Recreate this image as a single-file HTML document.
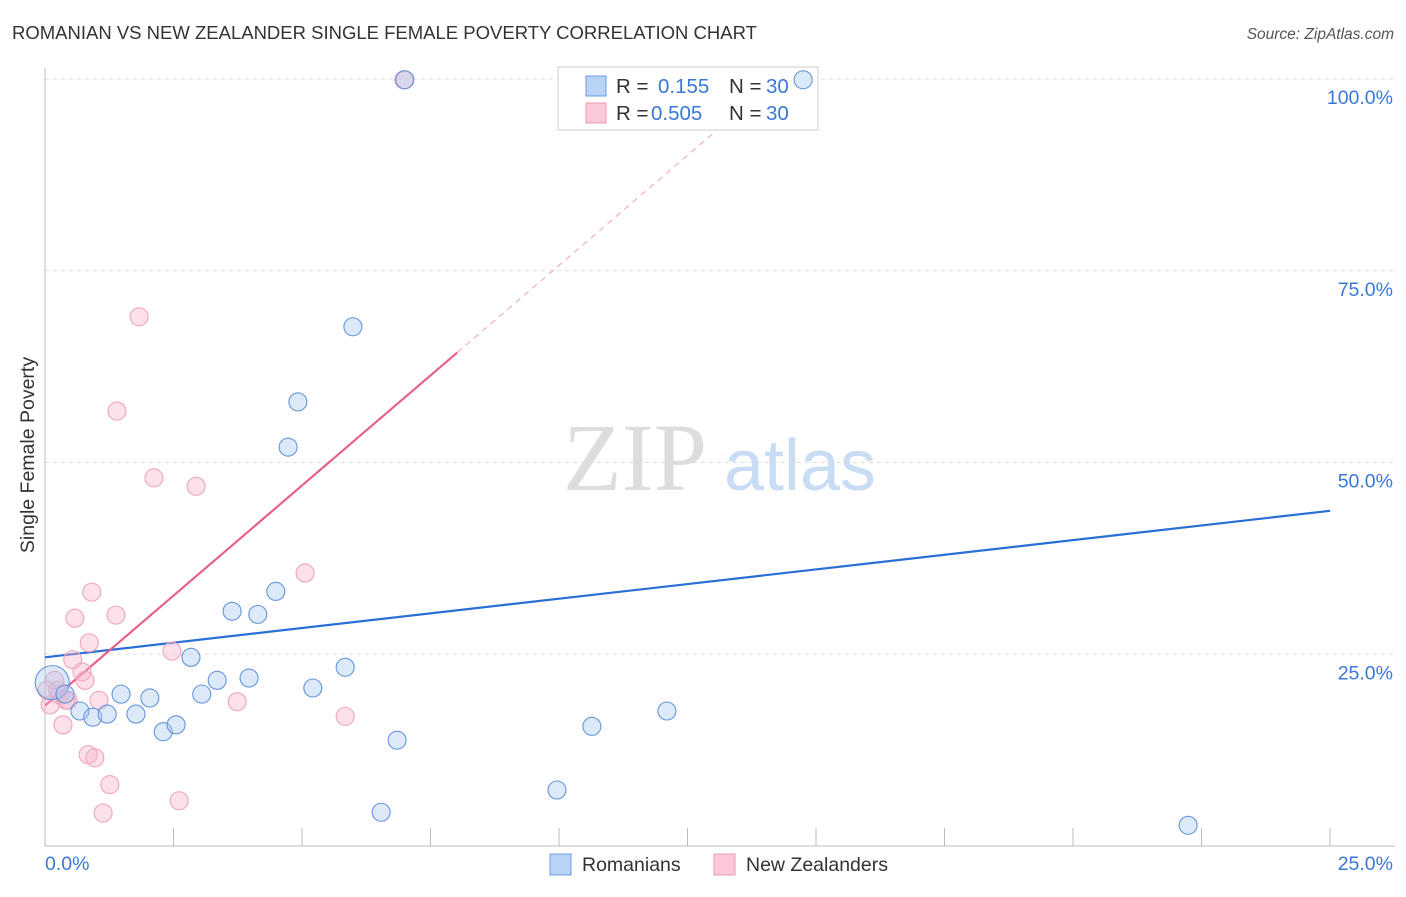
<!DOCTYPE html>
<html><head><meta charset="utf-8"><style>
body{margin:0;background:#fff;font-family:"Liberation Sans",sans-serif}
</style></head><body>
<svg id="c" width="1406" height="892" xmlns="http://www.w3.org/2000/svg" font-family="Liberation Sans, sans-serif">
<text x="12" y="39" font-size="18.5" fill="#333">ROMANIAN VS NEW ZEALANDER SINGLE FEMALE POVERTY CORRELATION CHART</text>
<text x="1394" y="39" font-size="15.5" fill="#555" text-anchor="end" font-style="italic">Source: ZipAtlas.com</text>
<text x="34" y="455" font-size="19.5" fill="#333" text-anchor="middle" transform="rotate(-90 34 455)">Single Female Poverty</text>
<g><text x="635" y="490" font-size="96" fill="#ddd" font-family="Liberation Serif, serif" text-anchor="middle">ZIP</text><text x="800" y="490" font-size="72" fill="#c8dcf4" text-anchor="middle">atlas</text></g>
<g id="grid"></g><g id="axes"></g><g id="trend"></g>
<g>
<rect x="558" y="67" width="260" height="63" fill="#fff" stroke="#ccc"/>
<rect x="586" y="76" width="20" height="20" fill="#b8d4f4" stroke="#6a9be0"/>
<rect x="586" y="103" width="20" height="20" fill="#fbc8d8" stroke="#ee9ab4"/>
<text font-size="20.5" fill="#333"><tspan x="616" y="93">R =</tspan><tspan x="658" y="93" fill="#3a78d8">0.155</tspan><tspan x="729" y="93">N =</tspan><tspan x="766" y="93" fill="#3a78d8">30</tspan></text>
<text font-size="20.5" fill="#333"><tspan x="616" y="120">R =</tspan><tspan x="651" y="120" fill="#3a78d8">0.505</tspan><tspan x="729" y="120">N =</tspan><tspan x="766" y="120" fill="#3a78d8">30</tspan></text>
</g>
<g id="pts"></g>
<g>
<rect x="550" y="854" width="21" height="21" fill="#b8d4f4" stroke="#6a9be0"/>
<text x="582" y="871" font-size="19.5" fill="#333">Romanians</text>
<rect x="714" y="854" width="21" height="21" fill="#fbc8d8" stroke="#ee9ab4"/>
<text x="746" y="871" font-size="19.5" fill="#333">New Zealanders</text>
</g>
</svg>
<script>
const blueX=[0.14,0.39,0.68,0.93,1.21,1.48,1.77,2.04,2.30,2.55,2.84,3.05,3.35,3.64,3.97,4.14,4.49,4.73,4.92,5.21,5.84,5.99,6.54,6.85,9.96,10.64,12.10,14.75,22.24,7.00];
const blueY=[21.3,19.8,17.6,16.8,17.2,19.8,17.2,19.3,14.9,15.8,24.6,19.8,21.6,30.6,21.9,30.2,33.2,52.0,57.9,20.6,23.3,67.7,4.4,13.8,7.3,15.6,17.6,99.9,2.7,99.9];
const pinkX=[0.10,0.19,0.29,0.35,0.45,0.58,0.54,0.72,0.78,0.84,0.86,0.91,0.97,1.05,1.13,1.26,1.38,1.40,1.83,2.12,2.47,2.61,2.94,3.74,5.06,5.84,6.98,0.04,0.25,0.41];
const pinkY=[18.4,21.6,19.7,15.8,19.0,29.7,24.3,22.7,21.6,11.9,26.5,33.1,11.5,19.0,4.3,8.0,30.1,56.7,69.0,48.0,25.4,5.9,46.9,18.8,35.6,16.9,99.9,20.3,20.3,19.0];
const yTicks=[25,50,75,100];
const yTickLabels=["25.0%","50.0%","75.0%","100.0%"];
const blueLine=[24.6,43.7];
const pinkLine=[18.3,5.74];
const NS="http://www.w3.org/2000/svg";
const sx=v=>45+v/25*1285, sy=v=>846-v/100*767;
function mk(t,a,p){const e=document.createElementNS(NS,t);for(const k in a)e.setAttribute(k,a[k]);document.getElementById(p).appendChild(e);return e;}
yTicks.forEach((t,i)=>{
 const l=mk('line',{x1:45,x2:1395,y1:sy(t),y2:sy(t),stroke:'#ddd','stroke-dasharray':'4,4'},'grid');
 
 
 const tx=mk('text',{x:1393,y:sy(t)+25,'font-size':19.5,fill:'#3a78d8','text-anchor':'end'},'axes');
 tx.textContent=yTickLabels[i];
 
 
});
let a=mk('line',{x1:45,x2:45,y1:68,y2:846,stroke:'#bbb'},'axes');


a=mk('line',{x1:45,x2:1395,y1:846,y2:846,stroke:'#bbb'},'axes');


for(let i=1;i<=10;i++){const t=mk('line',{x1:sx(i*2.5),x2:sx(i*2.5),y1:828,y2:846,stroke:'#bbb'},'axes');
 
 }
let xl=mk('text',{x:45,y:870,'font-size':19.5,fill:'#3a78d8'},'axes');xl.textContent='0.0%';


xl=mk('text',{x:1393,y:870,'font-size':19.5,fill:'#3a78d8','text-anchor':'end'},'axes');xl.textContent='25.0%';


pinkX.forEach((x,i)=>{const c=mk('circle',{cx:sx(x),cy:sy(pinkY[i]),r:9,fill:'rgba(248,180,202,0.4)',stroke:'#f0a4bc','stroke-width':1.1},'pts');
 
 });
blueX.forEach((x,i)=>{const c=mk('circle',{cx:sx(x),cy:sy(blueY[i]),r:i==0?17:9,fill:'rgba(168,200,240,0.4)',stroke:'#6495dc','stroke-width':1.1},'pts');
 
 });
let t=mk('line',{x1:sx(0),y1:sy(blueLine[0]),x2:sx(25),y2:sy(blueLine[1]),stroke:'#2a6fd6','stroke-width':2.2},'trend');


const pe=8.02, pd=(100-pinkLine[0])/pinkLine[1];
t=mk('line',{x1:sx(0),y1:sy(pinkLine[0]),x2:sx(pe),y2:sy(pinkLine[0]+pinkLine[1]*pe),stroke:'#e8608c','stroke-width':2.2},'trend');


t=mk('line',{x1:sx(pe),y1:sy(pinkLine[0]+pinkLine[1]*pe),x2:sx(pd),y2:sy(100),stroke:'#f0a0b8','stroke-width':1,'stroke-dasharray':'6,5'},'trend');


</script>
</body></html>
